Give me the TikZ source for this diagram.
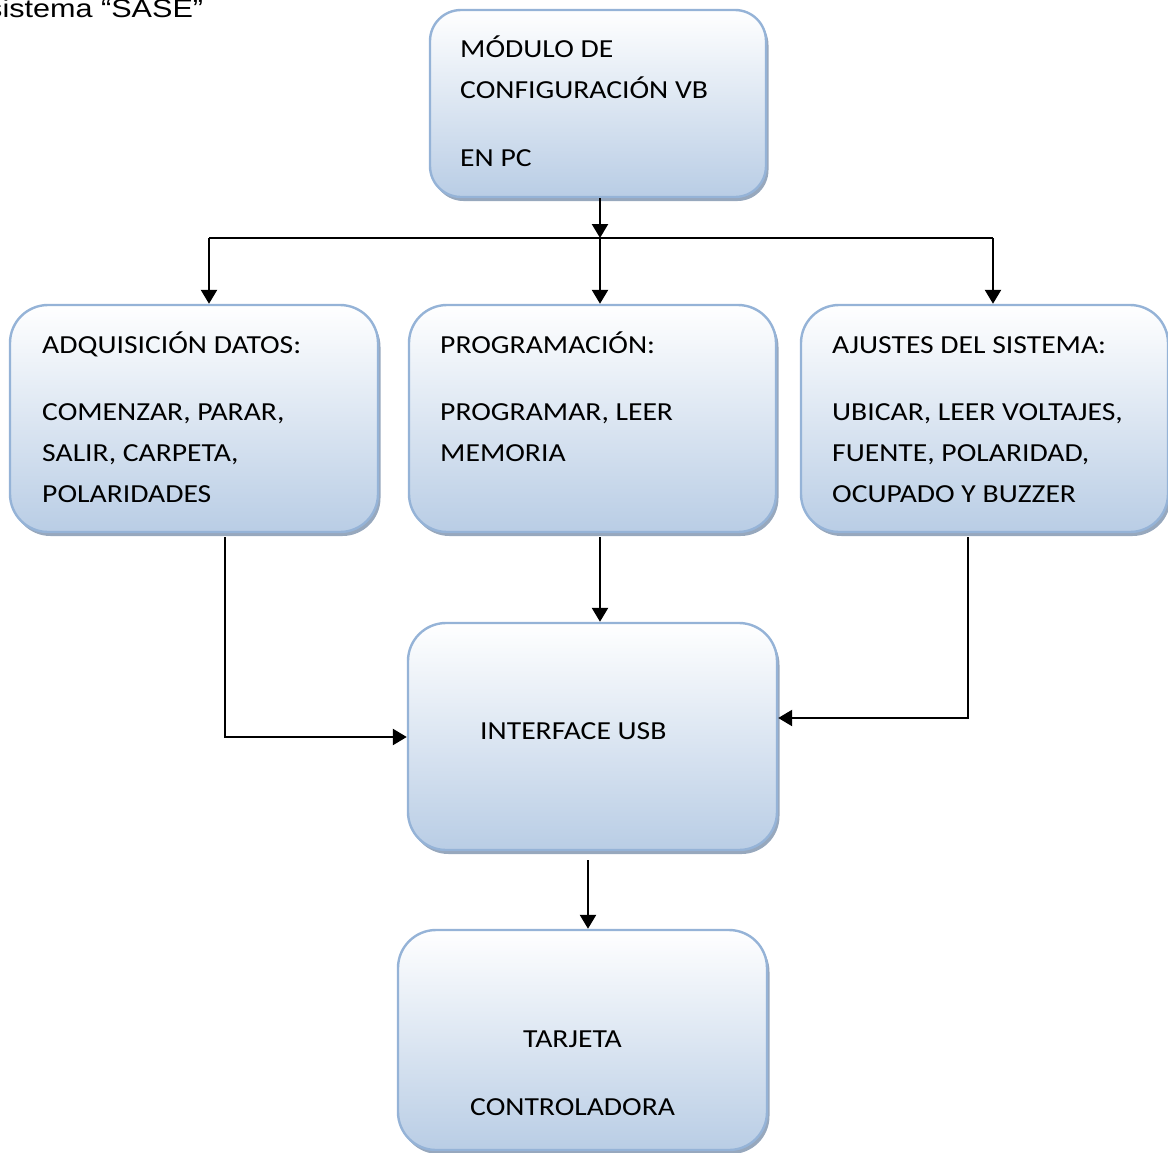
\documentclass[tikz,border=0pt]{standalone}
\usepackage{fontspec}
\setmainfont{Carlito}[FakeStretch=1.14]
\newfontfamily\titlefont{Liberation Sans}[FakeStretch=1.2]
\usetikzlibrary{arrows.meta,shadows}
\definecolor{boxedge}{RGB}{149,179,215}
\definecolor{boxlow}{RGB}{185,205,229}
\definecolor{boxshade}{RGB}{140,158,182}
\begin{document}
\begin{tikzpicture}[x=1pt,y=-1pt,
  blockbox/.style={draw=boxedge, line width=2.4pt, rounded corners=#1,
    top color=white, bottom color=boxlow, inner sep=0pt,
    drop shadow={shadow xshift=2.5pt, shadow yshift=-4pt, fill=boxshade, opacity=0.9}},
  blockbox/.default=38pt,
  txt/.style={anchor=base west, inner sep=0pt, font=\fontsize{26}{30}\selectfont},
  wire/.style={line width=2.4pt, black},
  arr/.style={wire, -{Triangle[length=14pt,width=16pt]}}]
\useasboundingbox (0,0) rectangle (1168,1152);

% heading
\node[anchor=base west, inner sep=0pt, font=\titlefont\fontsize{25.5}{30}\selectfont] (heading) at (-13,17) {sistema “SASE”};

% blocks
\node[blockbox=31pt, minimum width=336pt, minimum height=187pt] (cfg) at (598,103.5) {};
\node[blockbox, minimum width=368pt, minimum height=227pt] (adq) at (194,418.5) {};
\node[blockbox, minimum width=367pt, minimum height=227pt] (prg) at (592.5,418.5) {};
\node[blockbox, minimum width=367pt, minimum height=227pt] (aju) at (984.5,418.5) {};
\node[blockbox, minimum width=369pt, minimum height=227pt] (usb) at (592.5,736.5) {};
\node[blockbox, minimum width=369pt, minimum height=220pt] (tar) at (582.5,1040) {};

% block texts
\node[txt] (cfg1) at (460,57) {MÓDULO DE};
\node[txt] (cfg2) at (460,98) {CONFIGURACIÓN VB};
\node[txt] (cfg3) at (460,166) {EN PC};

\node[txt] (adq1) at (42,353) {ADQUISICIÓN DATOS:};
\node[txt] (adq2) at (42,420) {COMENZAR, PARAR,};
\node[txt] (adq3) at (42,461) {SALIR, CARPETA,};
\node[txt] (adq4) at (42,502) {POLARIDADES};

\node[txt] (prg1) at (440,353) {PROGRAMACIÓN:};
\node[txt] (prg2) at (440,420) {PROGRAMAR, LEER};
\node[txt] (prg3) at (440,461) {MEMORIA};

\node[txt] (aju1) at (832,353) {AJUSTES DEL SISTEMA:};
\node[txt] (aju2) at (832,420) {UBICAR, LEER VOLTAJES,};
\node[txt] (aju3) at (832,461) {FUENTE, POLARIDAD,};
\node[txt] (aju4) at (832,502) {OCUPADO Y BUZZER};

\node[txt] (usb1) at (480,739) {INTERFACE USB};

\node[txt] (tar1) at (523,1047) {TARJETA};
\node[txt] (tar2) at (470,1115) {CONTROLADORA};

% connector junctions
\coordinate (split) at (600,238);
\coordinate (bl) at (209,238);
\coordinate (br) at (993,238);
\coordinate (lk) at (225,737);
\coordinate (rk) at (968,718);
\coordinate (dn) at (588,860);

% connectors
\draw[arr] (split |- cfg.south) -- (split);
\draw[wire] (bl) -- (br);
\draw[arr] (bl) -- (bl |- adq.north);
\draw[arr] (split) -- (split |- prg.north);
\draw[arr] (br) -- (br |- aju.north);
\draw[arr] ([yshift=-4pt]lk |- adq.south) -- (lk) -- (lk -| usb.west);
\draw[arr] ([yshift=-4pt]split |- prg.south) -- (split |- usb.north);
\draw[arr] ([yshift=-4pt]rk |- aju.south) -- (rk) -- (rk -| usb.east);
\draw[arr] (dn) -- (dn |- tar.north);
\end{tikzpicture}
\end{document}
